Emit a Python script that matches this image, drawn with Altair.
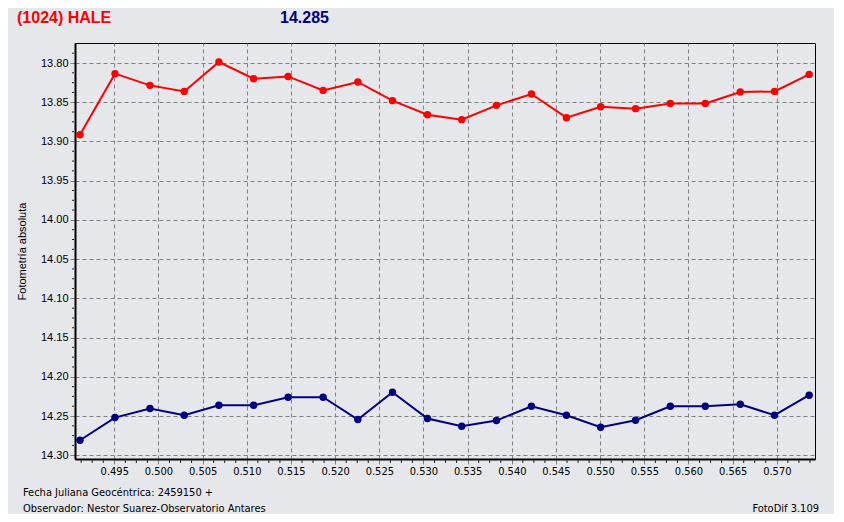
import altair as alt
import pandas as pd
import numpy as np

# Julian-date offsets (x) shared by both series
jd = [0.49112, 0.49508, 0.49904, 0.50292, 0.50684, 0.51077, 0.51468, 0.51864,
      0.52257, 0.52649, 0.53045, 0.53433, 0.53826, 0.54222, 0.54618, 0.55006,
      0.55401, 0.55794, 0.56190, 0.56586, 0.56974, 0.57366]
# asteroid (red)
mag_obj = [13.8914, 13.8136, 13.8285, 13.8362, 13.7987, 13.8200, 13.8171, 13.8349,
           13.8242, 13.8480, 13.8659, 13.8722, 13.8540, 13.8395, 13.8697, 13.8557,
           13.8582, 13.8515, 13.8515, 13.8370, 13.8362, 13.8145]
# comparison (navy)
mag_cmp = [14.2809, 14.2520, 14.2405, 14.2490, 14.2363, 14.2363, 14.2261, 14.2261,
           14.2545, 14.2197, 14.2532, 14.2630, 14.2558, 14.2376, 14.2490, 14.2643,
           14.2554, 14.2376, 14.2376, 14.2350, 14.2490, 14.2235]

y_ticks = [13.80, 13.85, 13.90, 13.95, 14.00, 14.05, 14.10, 14.15, 14.20, 14.25, 14.30]
x_ticks = [0.495, 0.500, 0.505, 0.510, 0.515, 0.520, 0.525, 0.530, 0.535, 0.540,
           0.545, 0.550, 0.555, 0.560, 0.565, 0.570]

BG = "#E6E7EA"
RED = "#FF0000"
NAVY = "#000080"
GRID = "#808080"

df = pd.DataFrame({
    "jd": jd * 2,
    "mag": mag_obj + mag_cmp,
    "serie": ["obj"] * len(jd) + ["cmp"] * len(jd),
})

xminor = [round(v, 5) for v in np.arange(0.49125, 0.5744, 0.00125)
          if abs(round(v / 0.005) * 0.005 - v) > 1e-6]
yminor = [round(v, 4) for v in np.arange(13.7875, 14.304, 0.0125)
          if abs(round(v / 0.05) * 0.05 - v) > 1e-6]

xscale = alt.Scale(domain=[0.490554, 0.57432], nice=False, zero=False)
yscale = alt.Scale(domain=[13.7745, 14.3048], nice=False, zero=False, reverse=True)
cscale = alt.Scale(domain=["obj", "cmp"], range=[RED, NAVY])

xaxis = alt.Axis(values=x_ticks, format=".3f", grid=True, gridColor=GRID,
                 gridDash=[4, 3], gridWidth=1, domainColor="black", domainWidth=2,
                 tickColor=GRID, tickSize=5, labelFont="DejaVu Sans Condensed",
                 labelFontSize=11, labelColor="black", labelPadding=1, title=None)
yaxis = alt.Axis(values=y_ticks, format=".2f", grid=True, gridColor=GRID,
                 gridDash=[4, 3], gridWidth=1, domainColor="black", domainWidth=2,
                 tickColor=GRID, tickSize=5, labelFont="Liberation Sans",
                 labelFontSize=11, labelColor="black", labelPadding=2,
                 title="Fotometría absoluta", titleFont="Liberation Sans",
                 titleFontSize=11, titleFontWeight="normal", titleColor="black",
                 titleX=-53, titleY=208, titleAngle=270, titleAlign="center",
                 titleBaseline="middle")

base = alt.Chart(df)
lines = base.mark_line(strokeWidth=2, clip=False).encode(
    x=alt.X("jd:Q", scale=xscale, axis=xaxis),
    y=alt.Y("mag:Q", scale=yscale, axis=yaxis),
    color=alt.Color("serie:N", scale=cscale, legend=None),
    detail="serie:N",
)
points = base.mark_point(filled=True, size=55, opacity=1, shape="circle").encode(
    x=alt.X("jd:Q", scale=xscale),
    y=alt.Y("mag:Q", scale=yscale),
    color=alt.Color("serie:N", scale=cscale, legend=None),
)

xm = alt.Chart(pd.DataFrame({"t": xminor})).mark_rule(color="#202020", strokeWidth=1).encode(
    x=alt.X("t:Q", scale=xscale), y=alt.value(417), y2=alt.value(420))
ym = alt.Chart(pd.DataFrame({"t": yminor})).mark_rule(color="#202020", strokeWidth=1).encode(
    y=alt.Y("t:Q", scale=yscale), x=alt.value(-3), x2=alt.value(-1))


def label(txt, x, y, color="black", size=11, weight="normal", font="DejaVu Sans Condensed", align="left"):
    return alt.Chart(alt.Data(values=[{}])).mark_text(
        text=txt, color=color, fontSize=size, fontWeight=weight, font=font,
        align=align, baseline="middle").encode(x=alt.value(x), y=alt.value(y))


t1 = label("(1024) HALE", -58, -25, RED, 16, "bold", "Liberation Sans")
t2 = label("14.285", 205, -25, NAVY, 16, "bold", "Liberation Sans")
f1 = label("Fecha Juliana Geocéntrica: 2459150 +", -52, 450)
f2 = label("Observador: Nestor Suarez-Observatorio Antares", -52, 466)
f3 = label("FotoDif 3.109", 744, 466, align="right")

chart = alt.layer(lines, points, xm, ym, t1, t2, f1, f2, f3).properties(
    width=740, height=416,
    autosize=alt.AutoSizeParams(type="none"),
    padding={"left": 67, "top": 35, "right": 19, "bottom": 55},
    background=BG,
).configure_view(stroke="black", strokeWidth=1, fill=BG)

chart.save("out.html", embed_options={"renderer": "svg", "actions": False})
